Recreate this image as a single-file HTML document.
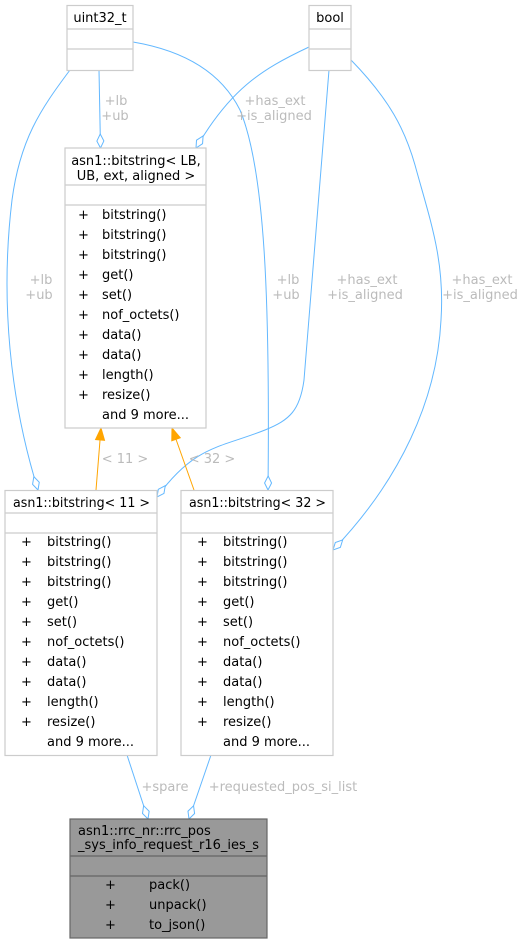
<!DOCTYPE html>
<html><head><meta charset="utf-8"><style>
html,body{margin:0;padding:0;background:#fff;}
svg{display:block;font-family:"DejaVu Sans","Liberation Sans",sans-serif;}
</style></head><body>
<svg width="527" height="944" viewBox="0 0 527 944" xmlns="http://www.w3.org/2000/svg">
<defs>
<marker id="dia" markerUnits="userSpaceOnUse" orient="auto" refX="14" refY="0" markerWidth="16" markerHeight="10" style="overflow:visible">
<path d="M0,0 L7,-3.5 L14,0 L7,3.5 Z" fill="#fff" stroke="#63b8ff" stroke-width="1"/>
</marker>
<marker id="arr" markerUnits="userSpaceOnUse" orient="auto" refX="12" refY="0" style="overflow:visible">
<path d="M0,-4.5 L12,0 L0,4.5 Z" fill="orange" stroke="orange"/>
</marker>
</defs>
<g fill="none" stroke="#63b8ff" stroke-width="1">
<path d="M99,70 L100.5,148" marker-end="url(#dia)"/>
<path d="M70,70 C40,110 20,140 12,200 C0,300 10,400 38,490" marker-end="url(#dia)"/>
<path d="M133,42 C180,50 220,70 240,110 C265,170 270,300 268,490" marker-end="url(#dia)"/>
<path d="M309,47 C260,70 230,90 196,148" marker-end="url(#dia)"/>
<path d="M329,70 L304,380 C300,410 290,420 265,430 C220,448 195,445 157,497" marker-end="url(#dia)"/>
<path d="M351,60 C390,100 405,130 415,165 C430,220 445,260 441,320 C437,400 400,480 333,550" marker-end="url(#dia)"/>
<path d="M127,755 L148,819" marker-end="url(#dia)"/>
<path d="M211,755 L189,819" marker-end="url(#dia)"/>
</g>
<g stroke="orange" stroke-width="1" fill="none">
<path d="M96,490 L101,428" marker-end="url(#arr)"/>
<path d="M194,490 L172,428" marker-end="url(#arr)"/>
</g>
<g fill="#bbb" font-size="13" text-anchor="middle">
<text x="116" y="105">+lb</text><text x="115" y="120">+ub</text>
<text x="275" y="105">+has_ext</text><text x="274" y="120">+is_aligned</text>
<text x="41" y="284">+lb</text><text x="39" y="299">+ub</text>
<text x="288" y="284">+lb</text><text x="286" y="299">+ub</text>
<text x="367" y="284">+has_ext</text><text x="365" y="299">+is_aligned</text>
<text x="482" y="284">+has_ext</text><text x="480" y="299">+is_aligned</text>
<text x="125" y="463">&lt; 11 &gt;</text><text x="212" y="463">&lt; 32 &gt;</text>
<text x="165" y="791">+spare</text><text x="283" y="791">+requested_pos_si_list</text>
</g>
<g stroke="#ccc" stroke-width="1.2" fill="#fff">
<rect x="67" y="5.5" width="66" height="65"/><line x1="67" y1="29" x2="133" y2="29"/><line x1="67" y1="49" x2="133" y2="49"/>
<rect x="309" y="5.5" width="42" height="65"/><line x1="309" y1="29" x2="351" y2="29"/><line x1="309" y1="49" x2="351" y2="49"/>
<rect x="65" y="148" width="141" height="280"/><line x1="65" y1="185" x2="206" y2="185"/><line x1="65" y1="205" x2="206" y2="205"/>
<rect x="5" y="490.5" width="152" height="265"/><line x1="5" y1="513" x2="157" y2="513"/><line x1="5" y1="533" x2="157" y2="533"/>
<rect x="181" y="490.5" width="152" height="265"/><line x1="181" y1="513" x2="333" y2="513"/><line x1="181" y1="533" x2="333" y2="533"/>
</g>
<g stroke="#666" stroke-width="1.2" fill="#999">
<rect x="70" y="819" width="197" height="119"/><line x1="70" y1="856" x2="267" y2="856"/><line x1="70" y1="876" x2="267" y2="876"/>
</g>
<g fill="#000" font-size="13">
<text x="100" y="22" text-anchor="middle">uint32_t</text>
<text x="330" y="22" text-anchor="middle">bool</text>
<text x="136" y="165" text-anchor="middle">asn1::bitstring&lt; LB,</text>
<text x="136" y="180" text-anchor="middle">UB, ext, aligned &gt;</text>
<text x="13" y="507" textLength="137" lengthAdjust="spacingAndGlyphs">asn1::bitstring&lt; 11 &gt;</text>
<text x="189" y="507" textLength="137" lengthAdjust="spacingAndGlyphs">asn1::bitstring&lt; 32 &gt;</text>
<text x="78" y="835">asn1::rrc_nr::rrc_pos</text>
<text x="78" y="849">_sys_info_request_r16_ies_s</text>
</g>
<g fill="#000" font-size="13">
<g transform="translate(78,219)">
<text x="0" y="0">+</text><text x="24" y="0">bitstring()</text>
<text x="0" y="20">+</text><text x="24" y="20">bitstring()</text>
<text x="0" y="40">+</text><text x="24" y="40">bitstring()</text>
<text x="0" y="60">+</text><text x="24" y="60">get()</text>
<text x="0" y="80">+</text><text x="24" y="80">set()</text>
<text x="0" y="100">+</text><text x="24" y="100">nof_octets()</text>
<text x="0" y="120">+</text><text x="24" y="120">data()</text>
<text x="0" y="140">+</text><text x="24" y="140">data()</text>
<text x="0" y="160">+</text><text x="24" y="160">length()</text>
<text x="0" y="180">+</text><text x="24" y="180">resize()</text>
<text x="24" y="200">and 9 more...</text>
</g>
<g transform="translate(21,546)">
<text x="0" y="0">+</text><text x="26" y="0">bitstring()</text>
<text x="0" y="20">+</text><text x="26" y="20">bitstring()</text>
<text x="0" y="40">+</text><text x="26" y="40">bitstring()</text>
<text x="0" y="60">+</text><text x="26" y="60">get()</text>
<text x="0" y="80">+</text><text x="26" y="80">set()</text>
<text x="0" y="100">+</text><text x="26" y="100">nof_octets()</text>
<text x="0" y="120">+</text><text x="26" y="120">data()</text>
<text x="0" y="140">+</text><text x="26" y="140">data()</text>
<text x="0" y="160">+</text><text x="26" y="160">length()</text>
<text x="0" y="180">+</text><text x="26" y="180">resize()</text>
<text x="26" y="200">and 9 more...</text>
</g>
<g transform="translate(197,546)">
<text x="0" y="0">+</text><text x="26" y="0">bitstring()</text>
<text x="0" y="20">+</text><text x="26" y="20">bitstring()</text>
<text x="0" y="40">+</text><text x="26" y="40">bitstring()</text>
<text x="0" y="60">+</text><text x="26" y="60">get()</text>
<text x="0" y="80">+</text><text x="26" y="80">set()</text>
<text x="0" y="100">+</text><text x="26" y="100">nof_octets()</text>
<text x="0" y="120">+</text><text x="26" y="120">data()</text>
<text x="0" y="140">+</text><text x="26" y="140">data()</text>
<text x="0" y="160">+</text><text x="26" y="160">length()</text>
<text x="0" y="180">+</text><text x="26" y="180">resize()</text>
<text x="26" y="200">and 9 more...</text>
</g>
<g transform="translate(105,889)">
<text x="0" y="0">+</text><text x="44" y="0">pack()</text>
<text x="0" y="20">+</text><text x="44" y="20">unpack()</text>
<text x="0" y="40">+</text><text x="44" y="40">to_json()</text>
</g>
</g>
</svg>
</body></html>
